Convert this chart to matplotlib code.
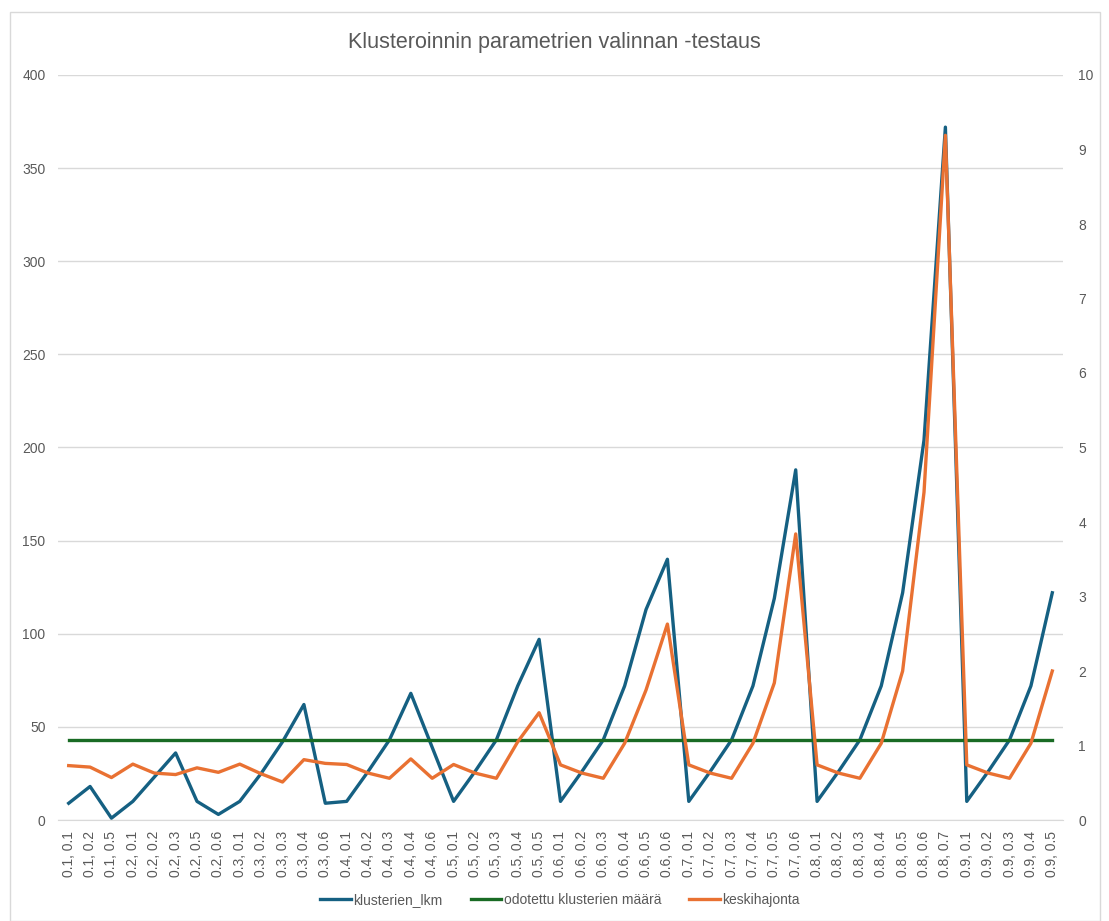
import matplotlib
matplotlib.use("Agg")
from matplotlib import pyplot as plt
from matplotlib.patches import Rectangle

# parameter pairs tested
labels = [
    "0.1, 0.1", "0.1, 0.2", "0.1, 0.5", "0.2, 0.1", "0.2, 0.2", "0.2, 0.3",
    "0.2, 0.5", "0.2, 0.6", "0.3, 0.1", "0.3, 0.2", "0.3, 0.3", "0.3, 0.4",
    "0.3, 0.6", "0.4, 0.1", "0.4, 0.2", "0.4, 0.3", "0.4, 0.4", "0.4, 0.6",
    "0.5, 0.1", "0.5, 0.2", "0.5, 0.3", "0.5, 0.4", "0.5, 0.5", "0.6, 0.1",
    "0.6, 0.2", "0.6, 0.3", "0.6, 0.4", "0.6, 0.5", "0.6, 0.6", "0.7, 0.1",
    "0.7, 0.2", "0.7, 0.3", "0.7, 0.4", "0.7, 0.5", "0.7, 0.6", "0.8, 0.1",
    "0.8, 0.2", "0.8, 0.3", "0.8, 0.4", "0.8, 0.5", "0.8, 0.6", "0.8, 0.7",
    "0.9, 0.1", "0.9, 0.2", "0.9, 0.3", "0.9, 0.4", "0.9, 0.5",
]

klusterien_lkm = [
    9, 18, 1, 10, 23, 36, 10, 3, 10, 25, 42, 62, 9, 10, 26, 43, 68, 39,
    10, 26, 43, 72, 97, 10, 26, 43, 72, 113, 140, 10, 26, 43, 72, 119, 188,
    10, 26, 43, 72, 122, 204, 372, 10, 26, 43, 72, 122,
]

odotettu = [
    43, 43, 43, 43, 43, 43, 43, 43, 43, 43, 43, 43, 43, 43, 43, 43, 43, 43,
    43, 43, 43, 43, 43, 43, 43, 43, 43, 43, 43, 43, 43, 43, 43, 43, 43, 43,
    43, 43, 43, 43, 43, 43, 43, 43, 43, 43, 43,
]

keskihajonta = [
    0.73, 0.71, 0.57, 0.75, 0.63, 0.61, 0.70, 0.64, 0.75, 0.62, 0.51, 0.81,
    0.76, 0.745, 0.63, 0.56, 0.82, 0.56, 0.745, 0.63, 0.56, 1.05, 1.44,
    0.74, 0.63, 0.56, 1.03, 1.745, 2.63, 0.74, 0.63, 0.56, 1.03, 1.84, 3.84,
    0.74, 0.63, 0.56, 1.03, 2.00, 4.4, 9.19, 0.74, 0.63, 0.56, 1.03, 2.00,
]

text_grey = "#595959"
grid_grey = "#d9d9d9"
blue = "#156082"
green = "#196B24"
orange = "#E97132"

plt.rcParams["font.family"] = ["Liberation Sans", "DejaVu Sans"]

fig = plt.figure(figsize=(11.09, 9.21), dpi=100)
# chart area border
fig.patches.append(Rectangle((10 / 1109, 0), 1090 / 1109, 909 / 921,
                             transform=fig.transFigure, fill=False,
                             edgecolor=grid_grey, linewidth=1))

ax = fig.add_axes([58 / 1109, 101 / 921, 1005 / 1109, 745 / 921])
ax2 = ax.twinx()

x = list(range(len(labels)))
l1, = ax.plot(x, klusterien_lkm, color=blue, linewidth=2.4,
              label="klusterien_lkm", zorder=3)
l2, = ax.plot(x, odotettu, color=green, linewidth=2.4,
              label="odotettu klusterien määrä", zorder=4)
l3, = ax2.plot(x, keskihajonta, color=orange, linewidth=2.4,
               label="keskihajonta", zorder=3)

ax.set_xlim(-0.5, len(labels) - 0.5)
ax.set_ylim(0, 400)
ax.set_yticks(range(0, 401, 50))
ax2.set_ylim(0, 10)
ax2.set_yticks(range(0, 11))

ax.set_xticks(x)
ax.set_xticklabels(labels, rotation=90, fontsize=9.5, color=text_grey)
ax.grid(axis="y", color=grid_grey, linewidth=1)
ax.set_axisbelow(True)

for a in (ax, ax2):
    for s in a.spines.values():
        s.set_visible(False)
    a.tick_params(length=0, labelsize=10, labelcolor=text_grey)
ax.spines["bottom"].set_visible(True)
ax.spines["bottom"].set_color(grid_grey)
ax.tick_params(axis="y", pad=9)
ax.tick_params(axis="x", pad=8)
ax2.tick_params(axis="y", pad=11)

fig.text(0.5, 0.954, "Klusteroinnin parametrien valinnan -testaus",
         ha="center", va="center", fontsize=15.5, color=text_grey)

fig.legend(handles=[l1, l2, l3], loc="center", bbox_to_anchor=(0.505, 0.023),
           ncol=3, frameon=False, handlelength=2.2, handletextpad=0.2,
           columnspacing=2.0, prop={"size": 10}, labelcolor=text_grey)

fig.savefig("out.png", dpi=100)
